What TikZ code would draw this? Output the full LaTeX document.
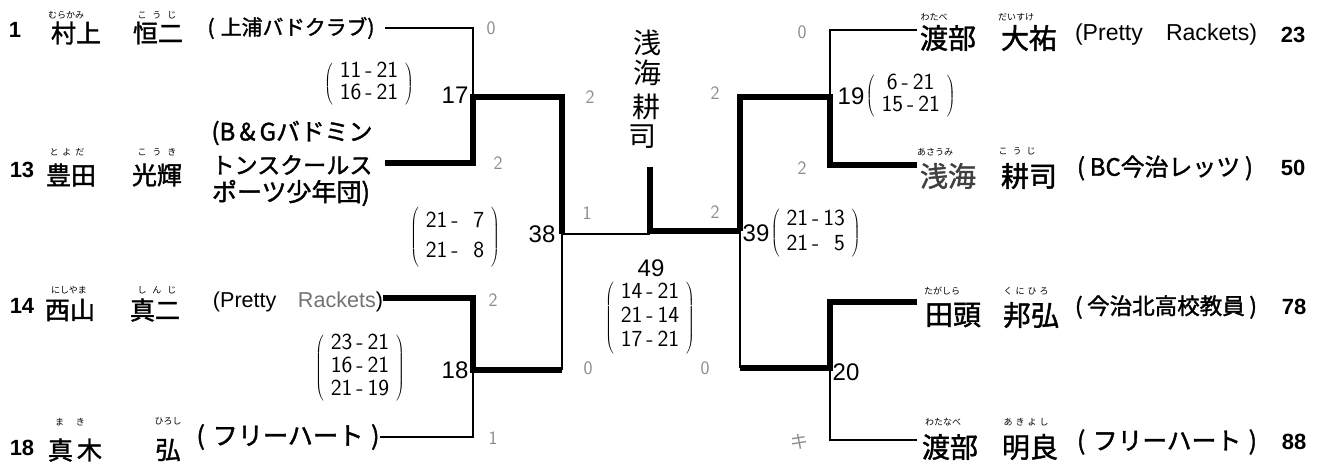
\documentclass[tikz,border=0pt]{standalone}
\usepackage{fontspec}
\usepackage{graphicx}
\newfontfamily\jp{Noto Sans CJK JP}
\newfontfamily\jpb{Noto Sans CJK JP}[FakeBold=1.5]
\newfontfamily\lat{Liberation Sans}
\newcommand\hsc[1]{$\left(\hspace{7pt}\begin{tabular}{@{}c@{}}#1\end{tabular}\hspace{7pt}\right)$}
\newcommand\hy{\hspace{4pt}-\hspace{4pt}}
\newcommand\fitw[2]{\resizebox{#1}{!}{#2}}
\tikzset{
  lnthin/.style={line width=1.7pt, line join=miter},
  lnthick/.style={line width=5.5pt, line join=miter},
  nmL/.style={inner sep=0pt, font=\jpb\fontsize{25}{25}\selectfont},
  nmR/.style={inner sep=0pt, font=\jpb\fontsize{28}{28}\selectfont},
  ruby/.style={inner sep=0pt, font=\jp\fontsize{9}{9}\selectfont},
  aff/.style={inner sep=0pt, font=\jpb\fontsize{18}{18}\selectfont},
  afflat/.style={inner sep=0pt, font=\lat\fontsize{16}{16}\selectfont},
  seed/.style={inner sep=0pt, font=\lat\bfseries\fontsize{22}{22}\selectfont},
  mnum/.style={inner sep=0pt, font=\lat\fontsize{24}{24}\selectfont},
  hmark/.style={inner sep=0pt, text=black!45, font=\sffamily\fontsize{19}{19}\selectfont},
  score/.style={inner sep=0pt, font=\sffamily\fontsize{23}{#1}\selectfont},
  score/.default=22,
  wname/.style={inner sep=0pt, font=\jp\fontsize{28}{28}\selectfont},
}
\begin{document}
\begin{tikzpicture}[x=1pt,y=-1pt]
\useasboundingbox[fill=white] (0,0) rectangle (1326,465);
% bracket points
\coordinate (p1) at (385,28);
\coordinate (m17) at (473,97);
\coordinate (p13) at (385,163);
\coordinate (m38) at (562,234);
\coordinate (p14) at (383,298);
\coordinate (m18) at (473,370);
\coordinate (c18) at (562,370);
\coordinate (p18) at (380,437);
\coordinate (wtop) at (650,167);
\coordinate (wmid) at (650,234);
\coordinate (m39) at (740,231);
\coordinate (c20) at (740,368);
\coordinate (m19) at (830,97);
\coordinate (p23) at (917,30);
\coordinate (p50) at (917,165);
\coordinate (m20) at (830,368);
\coordinate (p78) at (917,302);
\coordinate (p88) at (917,440);
% bracket lines
\draw[lnthin] (p1) -| (m17);
\draw[lnthick] (p13) -| (m17) -| (m38);
\draw[lnthick] (p14) -| (m18) -- (c18);
\draw[lnthin] (p18) -| (m18);
\draw[lnthin] (c18) -- (m38);
\draw[lnthin] (m38) -- (wmid);
\draw[lnthick] (wtop) |- (m39);
\draw[lnthin] (p23) -| (m19);
\draw[lnthick] (p50) -| (m19) -| (m39);
\draw[lnthin] (m39) -- (c20);
\draw[lnthick] (p78) -| (m20) -- (c20);
\draw[lnthin] (p88) -| (m20);
% left players
\node[seed] (n1) at (15,30) {1};
\node[nmL] (s1) at (76,33) {村上};
\node[nmL] (g1) at (158,33) {恒二};
\node[ruby] (rs1) at (66,15) {むらかみ};
\node[ruby] (rg1) at (157,15) {こ\hspace{6pt}う\hspace{6pt}じ};
\node[aff] (a1) at (291,28) {\fitw{167pt}{(\hspace{0.3em}上浦バドクラブ)}};

\node[seed] (n13) at (22,170) {13};
\node[nmL] (s13) at (71,175) {豊田};
\node[nmL] (g13) at (157,175) {光輝};
\node[ruby] (rs13) at (67,152) {と\hspace{4pt}よ\hspace{4pt}だ};
\node[ruby] (rg13) at (157,152) {こ\hspace{6pt}う\hspace{6pt}き};
\node[aff] (a13a) at (292,133) {\fitw{161pt}{(B\,\&\,Gバドミン}};
\node[aff] (a13b) at (292,165) {\fitw{161pt}{トンスクールス}};
\node[aff] (a13c) at (291,193) {\fitw{158pt}{ポーツ少年団)}};

\node[seed] (n14) at (22,306) {14};
\node[nmL] (s14) at (70,310) {西山};
\node[nmL] (g14) at (155,310) {真二};
\node[ruby] (rs14) at (69,290) {にしやま};
\node[ruby] (rg14) at (157,290) {し\hspace{6pt}ん\hspace{6pt}じ};
\node[afflat] (a14) at (298,302) {\fitw{170pt}{(Pretty\quad\textcolor{black!55}{Rackets})}};

\node[seed] (n18) at (22,448) {18};
\node[nmL] (s18) at (75,450) {真\hspace{4pt}木};
\node[nmL] (g18) at (168,450) {弘};
\node[ruby] (rs18) at (70,422) {ま\hspace{12pt}き};
\node[ruby] (rg18) at (168,421) {ひろし};
\node[aff] (a18) at (288,437) {\fitw{183pt}{(\hspace{0.3em}フリーハート\hspace{0.3em})}};

% right players
\node[nmR] (s23) at (948,38) {渡部};
\node[nmR] (g23) at (1029,38) {大祐};
\node[ruby] (rs23) at (934,17) {わたべ};
\node[ruby] (rg23) at (1016,17) {だいすけ};
\node[afflat] (a23) at (1166,35) {\fitw{182pt}{(Pretty\quad Rackets)}};
\node[seed] (n23) at (1293,35) {23};

\node[nmR, text=black!75] (s50) at (948,176) {浅海};
\node[nmR] (g50) at (1029,176) {耕司};
\node[ruby] (rs50) at (935,152) {あさうみ};
\node[ruby] (rg50) at (1017,151) {こ\hspace{5pt}う\hspace{5pt}じ};
\node[aff] (a50) at (1165,168) {\fitw{176pt}{(\hspace{0.2em}BC今治レッツ\hspace{0.2em})}};
\node[seed] (n50) at (1293,168) {50};

\node[nmR] (s78) at (953,315) {田頭};
\node[nmR] (g78) at (1031,315) {邦弘};
\node[ruby] (rs78) at (942,291) {たがしら};
\node[ruby] (rg78) at (1026,291) {く\hspace{3pt}に\hspace{3pt}ひ\hspace{3pt}ろ};
\node[aff] (a78) at (1166,307) {\fitw{182pt}{(\hspace{0.2em}今治北高校教員\hspace{0.2em})}};
\node[seed] (n78) at (1294,307) {78};

\node[nmR] (s88) at (950,447) {渡部};
\node[nmR] (g88) at (1030,447) {明良};
\node[ruby] (rs88) at (943,422) {わたなべ};
\node[ruby] (rg88) at (1026,422) {あ\hspace{3pt}き\hspace{3pt}よ\hspace{3pt}し};
\node[aff] (a88) at (1167,442) {\fitw{180pt}{(\hspace{0.3em}フリーハート\hspace{0.3em})}};
\node[seed] (n88) at (1294,442) {88};

% match numbers and scores
\node[mnum] (t17) at (455,95) {17};
\node[score=22] (sc17) at (369,84) {\hsc{11\hy21\\16\hy21}};
\node[mnum] (t38) at (542,234) {38};
\node[score=30] (sc38) at (455,237) {\hsc{21\hy\phantom{1}7\\21\hy\phantom{1}8}};
\node[mnum] (t18) at (455,370) {18};
\node[score=23] (sc18) at (360,368) {\hsc{23\hy21\\16\hy21\\21\hy19}};
\node[mnum] (t49) at (651,268) {49};
\node[score=24] (sc49) at (650,318) {\hsc{14\hy21\\21\hy14\\17\hy21}};
\node[mnum] (t19) at (851,96) {19};
\node[score=22, anchor=west] (sc19) at ([xshift=1pt]t19.east) {\hsc{6\hy21\\15\hy21}};
\node[mnum] (t39) at (756,233) {39};
\node[score=25, anchor=west] (sc39) at ([xshift=1pt]t39.east) {\hsc{21\hy13\\21\hy\phantom{1}5}};
\node[mnum] (t20) at (846,372) {20};

% winner name (handwritten)
\node[wname] (w1) at (647,43) {浅};
\node[wname] (w2) at (647,73) {海};
\node[wname] (w3) at (646,107) {耕};
\node[wname] (w4) at (642,137) {司};

% light handwritten game marks
\node[hmark] (k1) at (491,28) {0};
\node[hmark] (k2) at (590,97) {2};
\node[hmark] (k3) at (498,163) {2};
\node[hmark] (k4) at (587,213) {1};
\node[hmark] (k5) at (715,93) {2};
\node[hmark] (k6) at (802,32) {0};
\node[hmark] (k7) at (802,168) {2};
\node[hmark] (k8) at (715,212) {2};
\node[hmark] (k9) at (493,300) {2};
\node[hmark] (k10) at (588,368) {0};
\node[hmark] (k11) at (705,368) {0};
\node[hmark] (k12) at (493,438) {1};
\node[hmark, font=\jp\fontsize{18}{18}\selectfont] (k13) at (799,442) {キ};
\end{tikzpicture}
\end{document}
